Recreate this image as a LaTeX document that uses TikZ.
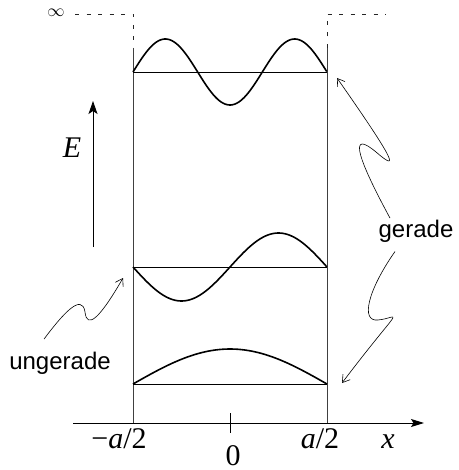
\documentclass[tikz,border=0pt]{standalone}
\usepackage{fontspec}
\setmainfont{Liberation Serif}
\newfontfamily\labelsans{Liberation Sans}
\usetikzlibrary{arrows.meta}

\begin{document}
\begin{tikzpicture}[x=1pt,y=-1pt,
  wall/.style={draw=black!75,line width=0.8pt},
  openwall/.style={draw=black!85,line width=0.9pt,dash pattern=on 4pt off 7.5pt},
  level/.style={line width=0.9pt},
  wave/.style={line width=1.6pt,line join=round},
  squiggle/.style={line width=0.6pt,-{Straight Barb[length=7pt,width=9pt]}},
  mathlbl/.style={font=\fontsize{30}{30}\selectfont,inner sep=0pt,anchor=base},
  wordlbl/.style={font=\labelsans\fontsize{24}{24}\selectfont,anchor=base}]
\useasboundingbox (0,0) rectangle (458,470);
% well walls
\draw[openwall] (75,14) -- (133,14) -- (133,48);
\draw[openwall] (327,48) -- (327,14) -- (386,14);
\draw[wall] (133,48) -- (133,423);
\draw[wall] (327,48) -- (327,423);
\node[font=\fontsize{19}{19}\selectfont,inner sep=0pt,anchor=base] (infty) at (56,17) {$\infty$};
% x axis
\coordinate (xstart) at (73,423);
\coordinate (xend) at (424,423);
\draw[line width=0.9pt,-{Stealth[length=13pt,width=8pt,inset=2.5pt]}] (xstart) -- (xend);
\draw[line width=0.9pt] (230,413) -- (230,433);
\node[mathlbl] (mleft) at (119,448) {−\textit{a}/2};
\node[mathlbl] (zero) at (233,465) {0};
\node[mathlbl] (mright) at (320,448) {\textit{a}/2};
\node[mathlbl] (xlbl) at (388,448) {\textit{x}};
% energy arrow
\coordinate (ebot) at (93,247);
\coordinate (etop) at (93,101);
\draw[line width=0.9pt,-{Stealth[length=13pt,width=9pt,inset=3pt]}] (ebot) -- (etop);
\node[mathlbl] (elbl) at (72,158) {\textit{E}};
% levels and wave functions
\coordinate (lvla) at (133,384); \coordinate (lvlaa) at (327,384);
\coordinate (lvlb) at (133,267); \coordinate (lvlbb) at (327,267);
\coordinate (lvlc) at (133,72);  \coordinate (lvlcc) at (327,72);
\draw[level] (lvla) -- (lvlaa);
\draw[level] (lvlb) -- (lvlbb);
\draw[level] (lvlc) -- (lvlcc);
\draw[wave] plot[domain=0:1,samples=60] ({133+194*\x},{384-35*sin(180*\x)});
\draw[wave] plot[domain=0:1,samples=80] ({133+194*\x},{267+34*sin(360*\x)});
\draw[wave] plot[domain=0:1,samples=100] ({133+194*\x},{72-33*sin(540*\x)});
% parity labels
\node[wordlbl] (unger) at (60,369) {ungerade};
\node[wordlbl] (ger) at (416,237) {gerade};
\coordinate (tipu) at (123,278);
\coordinate (tipgt) at (337,78);
\coordinate (tipgb) at (342,383);
\draw[squiggle] ([xshift=-16pt,yshift=9pt]unger.north) .. controls (62,315) and (82,292) .. (85,312)
  .. controls (87,330) and (100,318) .. (tipu);
\draw[squiggle] ([xshift=-26pt,yshift=-2pt]ger.north) .. controls (352,148) and (352,132) .. (376,152)
  .. controls (397,170) and (400,168) .. (tipgt);
\draw[squiggle] ([xshift=-21pt,yshift=-6pt]ger.south) .. controls (368,290) and (360,322) .. (378,320)
  .. controls (400,318) and (405,300) .. (tipgb);
\end{tikzpicture}
\end{document}
